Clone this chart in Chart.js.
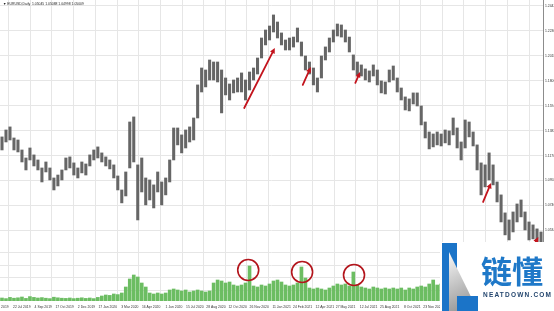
<!DOCTYPE html>
<html>
<head>
<meta charset="utf-8">
<title>EURUSD Daily</title>
<script src="https://cdn.jsdelivr.net/npm/chart.js@4.4.1/dist/chart.umd.min.js"></script>
<style>
  html, body { margin: 0; padding: 0; background: #fff; }
  #wrap { width: 554px; height: 311px; }
</style>
</head>
<body>
<div id="wrap"><canvas id="eurusd" width="554" height="311"></canvas></div>
<script>
// --- data ---
const symbolTitle = '\u25BC EURUSD,Daily  1.05045 1.05088 1.04998 1.05009';

// time axis: bar index of each date label
const dateLabels = ['3 Jun 2019', '22 Jul 2019', '4 Sep 2019', '17 Oct 2019', '2 Dec 2019',
  '17 Jan 2020', '3 Mar 2020', '16 Apr 2020', '1 Jun 2020', '15 Jul 2020', '28 Aug 2020',
  '12 Oct 2020', '26 Nov 2020', '11 Jan 2021', '24 Feb 2021', '12 Apr 2021', '27 May 2021',
  '12 Jul 2021', '25 Aug 2021', '8 Oct 2021', '23 Nov 2021', '6 Jan 2022', '21 Feb 2022',
  '5 Apr 2022', '19 May 2022'];
const dateTickBars = [13, 46, 78, 111, 143, 176, 208, 241, 274, 306, 339, 371, 404, 437,
  469, 502, 534, 567, 600, 632, 665, 697, 730, 762, 795];

const priceTicks = [1.2442, 1.2336, 1.2230, 1.2124, 1.2018, 1.1912, 1.1806, 1.1700, 1.1594,
  1.1488, 1.1382, 1.1276, 1.1170, 1.1064, 1.0958, 1.0852, 1.0746, 1.0640, 1.0534, 1.0428];
const volumeTicks = [55, 118, 180, 243];

// each slot = about six daily bars
const barsPerSlot = 6;
const priceHigh = [
  1.1329, 1.1388, 1.1414, 1.1320, 1.1303, 1.1218, 1.1150, 1.1235, 1.1176, 1.1133,
  1.1065, 1.1116, 1.1065, 1.0980, 1.1005, 1.1048, 1.1150, 1.1159, 1.1108, 1.1065,
  1.1116, 1.1099, 1.1176, 1.1218, 1.1244, 1.1193, 1.1159, 1.1133, 1.1091, 1.0997,
  1.0878, 1.1031, 1.1456, 1.1499, 1.1091, 1.1150, 1.0980, 1.0963, 1.0921, 1.1031,
  1.0946, 1.0980, 1.1133, 1.1405, 1.1405, 1.1346, 1.1388, 1.1414, 1.1490, 1.1771,
  1.1915, 1.1898, 1.1983, 1.1966, 1.1966, 1.1898, 1.1830, 1.1779, 1.1813, 1.1830,
  1.1873, 1.1813, 1.1881, 1.1915, 1.2000, 1.2170, 1.2238, 1.2272, 1.2366, 1.2306,
  1.2213, 1.2153, 1.2170, 1.2178, 1.2255, 1.2136, 1.2017, 1.1966, 1.1915, 1.1830,
  1.2017, 1.2094, 1.2170, 1.2238, 1.2289, 1.2281, 1.2238, 1.2178, 1.2026, 1.1966,
  1.1941, 1.1907, 1.1890, 1.1941, 1.1898, 1.1805, 1.1796, 1.1898, 1.1932, 1.1830,
  1.1745, 1.1669, 1.1652, 1.1703, 1.1703, 1.1592, 1.1456, 1.1371, 1.1354, 1.1371,
  1.1354, 1.1388, 1.1380, 1.1490, 1.1405, 1.1286, 1.1473, 1.1456, 1.1371, 1.1261,
  1.1108, 1.1091, 1.1193, 1.1091, 1.0946, 1.0836, 1.0683, 1.0623, 1.0691, 1.0759,
  1.0793, 1.0691, 1.0606, 1.0581, 1.0547, 1.0521];
const priceLow = [
  1.1218, 1.1286, 1.1303, 1.1218, 1.1201, 1.1116, 1.1048, 1.1133, 1.1082, 1.1048,
  1.0946, 1.1031, 1.0963, 1.0878, 1.0912, 1.0963, 1.1048, 1.1065, 1.1005, 1.0980,
  1.1023, 1.1005, 1.1082, 1.1133, 1.1150, 1.1116, 1.1082, 1.1057, 1.0980, 1.0878,
  1.0768, 1.0827, 1.1065, 1.1116, 1.0623, 1.0861, 1.0751, 1.0793, 1.0725, 1.0861,
  1.0751, 1.0836, 1.0946, 1.1133, 1.1261, 1.1193, 1.1235, 1.1286, 1.1303, 1.1490,
  1.1711, 1.1754, 1.1813, 1.1813, 1.1796, 1.1533, 1.1686, 1.1643, 1.1703, 1.1711,
  1.1711, 1.1643, 1.1728, 1.1813, 1.1864, 1.2000, 1.2111, 1.2153, 1.2221, 1.2170,
  1.2111, 1.2068, 1.2068, 1.2093, 1.2136, 1.2017, 1.1898, 1.1864, 1.1771, 1.1711,
  1.1830, 1.1983, 1.2051, 1.2136, 1.2187, 1.2178, 1.2136, 1.2051, 1.1898, 1.1856,
  1.1847, 1.1813, 1.1796, 1.1847, 1.1771, 1.1703, 1.1694, 1.1796, 1.1813, 1.1711,
  1.1643, 1.1558, 1.1550, 1.1609, 1.1592, 1.1431, 1.1320, 1.1227, 1.1244, 1.1261,
  1.1252, 1.1278, 1.1261, 1.1346, 1.1235, 1.1133, 1.1235, 1.1329, 1.1252, 1.1048,
  1.0836, 1.0904, 1.0963, 1.0921, 1.0776, 1.0606, 1.0496, 1.0453, 1.0521, 1.0606,
  1.0649, 1.0538, 1.0453, 1.0462, 1.0419, 1.0402];
const volume = [
  15, 12, 18, 14, 16, 20, 13, 22, 18, 15, 17, 14, 12, 19, 16, 14, 13, 15, 12, 14,
  16, 13, 15, 12, 18, 25, 30, 28, 35, 32, 40, 70, 110, 130, 120, 90, 70, 40, 35, 40,
  35, 40, 55, 60, 55, 50, 55, 45, 50, 55, 50, 45, 50, 90, 105, 100, 90, 95, 80, 75,
  80, 90, 175, 75, 70, 80, 75, 85, 100, 105, 95, 80, 75, 80, 90, 170, 115, 65, 60, 65,
  60, 55, 65, 75, 85, 80, 85, 75, 145, 80, 70, 65, 60, 70, 65, 60, 65, 60, 65, 60,
  65, 55, 65, 60, 70, 75, 70, 85, 105, 80, 85, 80, 90, 85, 80, 90, 95, 85, 80, 90,
  110, 105, 95, 100, 110, 120, 115, 105, 100, 95, 100, 110, 105, 100, 110, 105];

// red marks drawn on the screenshot: [bar, price] and [bar, volume]
const arrowFrom = [[367, 1.1575], [455, 1.1771], [534, 1.1788], [726, 1.0776], [792, 1.0300]];
const arrowTo = [[413, 1.2085], [467, 1.1923], [541, 1.1881], [738, 1.0938], [809, 1.0479]];
const circleAt = [[373, 155], [454, 145], [532, 130]];

const totalBars = priceHigh.length * barsPerSlot;
const tickFont = { family: 'Liberation Sans', size: 3.4 };
const gridColor = '#e6e6e6';

const marks = {
  id: 'marks',
  afterDatasetsDraw(chart) {
    const { ctx, scales } = chart;
    const x = scales.x, yP = scales.yPrice, yV = scales.yVol;
    ctx.save();
    ctx.strokeStyle = '#c3141d';
    ctx.fillStyle = '#c3141d';
    ctx.lineWidth = 1.8;
    ctx.lineCap = 'round';
    arrowFrom.forEach((a, i) => {
      const x0 = x.getPixelForValue(a[0]), y0 = yP.getPixelForValue(a[1]);
      const x1 = x.getPixelForValue(arrowTo[i][0]), y1 = yP.getPixelForValue(arrowTo[i][1]);
      const ang = Math.atan2(y1 - y0, x1 - x0);
      const head = 6;
      ctx.beginPath();
      ctx.moveTo(x0, y0);
      ctx.lineTo(x1 - Math.cos(ang) * head * 0.6, y1 - Math.sin(ang) * head * 0.6);
      ctx.stroke();
      ctx.beginPath();
      ctx.moveTo(x1, y1);
      ctx.lineTo(x1 - head * Math.cos(ang - 0.45), y1 - head * Math.sin(ang - 0.45));
      ctx.lineTo(x1 - head * Math.cos(ang + 0.45), y1 - head * Math.sin(ang + 0.45));
      ctx.closePath();
      ctx.fill();
    });
    ctx.lineWidth = 1.6;
    ctx.strokeStyle = '#b3151c';
    circleAt.forEach(c => {
      ctx.beginPath();
      ctx.arc(x.getPixelForValue(c[0]), yV.getPixelForValue(c[1]), 10.5, 0, Math.PI * 2);
      ctx.stroke();
    });
    ctx.restore();
  },
  afterDraw(chart) {
    const ctx = chart.ctx;
    ctx.save();
    // symbol line, top left
    ctx.fillStyle = '#222';
    ctx.font = '3.4px "Liberation Sans"';
    ctx.textBaseline = 'middle';
    ctx.fillText(symbolTitle, 3, 4);

    // watermark logo, bottom right
    ctx.fillStyle = '#fff';
    ctx.fillRect(440, 242, 114, 69);
    ctx.fillStyle = '#1b74c8';
    ctx.fillRect(442, 243, 15, 68);
    const g = ctx.createLinearGradient(449, 255, 478, 311);
    g.addColorStop(0, '#f4f4f4');
    g.addColorStop(1, '#8c8c8c');
    ctx.fillStyle = g;
    ctx.beginPath();
    ctx.moveTo(449, 252);
    ctx.lineTo(478, 311);
    ctx.lineTo(449, 311);
    ctx.closePath();
    ctx.fill();
    ctx.fillStyle = '#1b74c8';
    ctx.fillRect(457, 296, 21, 15);

    ctx.textBaseline = 'alphabetic';
    ctx.fillStyle = '#1e78c8';
    ctx.font = '600 31px "Noto Sans CJK SC"';
    ctx.fillText('链懂', 481, 283);
    ctx.fillStyle = '#24466e';
    ctx.font = 'bold 6.5px "Liberation Sans"';
    ctx.letterSpacing = '1.2px';
    ctx.fillText('NEATDOWN.COM', 483, 297);
    ctx.restore();
  }
};

new Chart(document.getElementById('eurusd'), {
  type: 'bar',
  data: {
    datasets: [
      {
        label: 'EURUSD',
        yAxisID: 'yPrice',
        grouped: false,
        data: priceHigh.map((h, i) => ({ x: i * barsPerSlot + barsPerSlot / 2, y: [priceLow[i], h] })),
        backgroundColor: '#666666',
        borderWidth: 0,
        categoryPercentage: 1,
        barPercentage: 1,
        maxBarThickness: 2.4
      },
      {
        label: 'Volumes',
        yAxisID: 'yVol',
        grouped: false,
        data: volume.map((v, i) => ({ x: i * barsPerSlot + barsPerSlot / 2, y: v })),
        backgroundColor: '#6cbd62',
        borderWidth: 0,
        categoryPercentage: 1,
        barPercentage: 1,
        maxBarThickness: 3
      }
    ]
  },
  options: {
    responsive: false,
    maintainAspectRatio: false,
    devicePixelRatio: 1,
    animation: false,
    layout: { padding: 0 },
    plugins: { legend: { display: false }, tooltip: { enabled: false } },
    scales: {
      x: {
        type: 'linear',
        position: 'bottom',
        min: 0,
        max: totalBars,
        offset: false,
        grid: { color: gridColor, drawTicks: false, offset: false },
        border: { display: false },
        ticks: {
          autoSkip: false, maxRotation: 0, align: 'end', padding: 4,
          color: '#333', font: tickFont,
          callback: (v, i) => dateLabels[i]
        },
        afterBuildTicks: s => { s.ticks = dateTickBars.map(v => ({ value: v })); },
        afterFit: s => { s.height = 10; s.paddingLeft = 0; s.paddingRight = 0; }
      },
      yPrice: {
        type: 'linear',
        position: 'right',
        stack: 'panes',
        stackWeight: 245,
        min: 1.0410,
        max: 1.2493,
        grid: { color: gridColor, drawTicks: false },
        border: { display: true, color: '#8c8c8c' },
        ticks: { padding: 2, color: '#333', font: tickFont, callback: v => v.toFixed(5) },
        afterBuildTicks: s => { s.ticks = priceTicks.map(v => ({ value: v })); },
        afterFit: s => { s.width = 11; s.paddingTop = 0; s.paddingBottom = 0; }
      },
      yVol: {
        type: 'linear',
        position: 'right',
        stack: 'panes',
        stackWeight: 56,
        min: 0,
        max: 280,
        grid: { color: gridColor, drawTicks: false },
        border: { display: true, color: '#8c8c8c' },
        ticks: { display: false },
        afterBuildTicks: s => { s.ticks = volumeTicks.map(v => ({ value: v })); },
        afterFit: s => { s.width = 11; s.paddingTop = 0; s.paddingBottom = 0; }
      }
    }
  },
  plugins: [marks]
});
</script>
</body>
</html>
